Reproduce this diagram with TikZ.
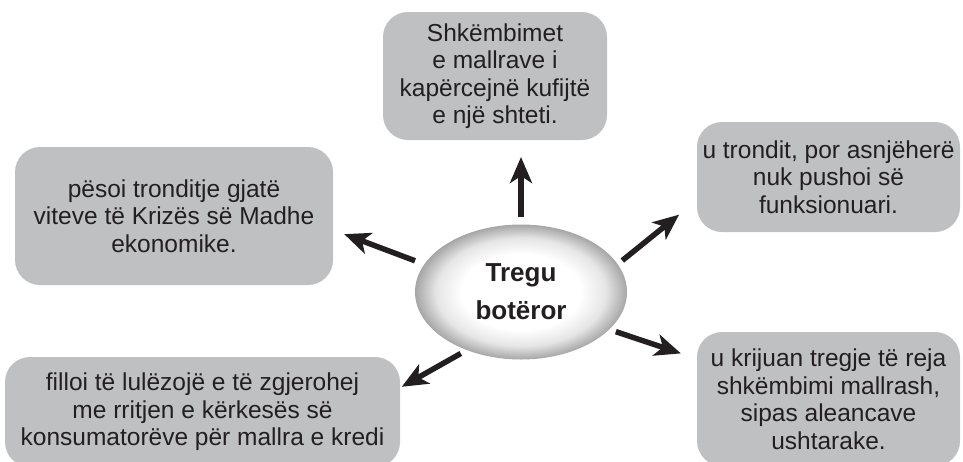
\documentclass[tikz,border=0pt]{standalone}
\usepackage{fontspec}
\setmainfont{Liberation Sans}
\usetikzlibrary{shapes.geometric, arrows.meta}
\definecolor{boxgray}{RGB}{191,192,194}
\definecolor{inkblack}{RGB}{35,31,32}
\pgfdeclareradialshading{globe}{\pgfpoint{0bp}{0bp}}{color(0bp)=(white); color(14bp)=(white); color(20bp)=(gray!20); color(25bp)=(gray!70); color(50bp)=(gray!70)}
\tikzset{
    >={Stealth[length=26pt, width=22pt, inset=7pt]}, % big solid arrow heads
    fact/.style={fill=boxgray, rounded corners=25pt, inner sep=0pt, outer sep=0pt, align=center, text=inkblack, font=\fontsize{24.5}{27.5}\selectfont}, % the grey boxes
    hub/.style={ellipse, shading=globe, inner sep=0pt, outer sep=0pt, align=center, text=inkblack, font=\fontsize{26}{38}\bfseries\selectfont}, % the centre
    link/.style={->, line width=5.5pt, draw=inkblack}, % thick arrows
}

\begin{document}
\begin{tikzpicture}[x=1pt, y=-1pt
                  ]
                  \useasboundingbox (0,0) rectangle (963,461);
                  \node[hub, minimum width=212pt, minimum height=135pt] (m) at (521,292) {Tregu\\botëror};
                  \node[fact, minimum width=224pt, minimum height=128pt] (s1) at (495,76) {Shkëmbimet\\e mallrave i\\kapërcejnë kufijtë\\e një shteti.};
                  \node[fact, minimum width=263pt, minimum height=110pt] (s2) at (828.5,177) {u trondit, por asnjëherë\\nuk pushoi së\\funksionuari.};
                  \node[fact, minimum width=263pt, minimum height=134pt] (s3) at (828.5,399) {u krijuan tregje të reja\\shkëmbimi mallrash,\\sipas aleancave\\ushtarake.};
                  \node[fact, minimum width=395pt, minimum height=110pt] (s4) at (202.5,412) {filloi të lulëzojë e të zgjerohej\\me rritjen e kërkesës së\\konsumatorëve për mallra e kredi};
                  \node[fact, minimum width=318pt, minimum height=138pt] (s5) at (174,216) {pësoi tronditje gjatë\\viteve të Krizës së Madhe\\ekonomike.};
                  \draw[link, shorten <=8pt, shorten >=17pt] (m.north) -- (m.north |- s1.south);
                  \draw[link, shorten <=6pt, shorten >=23pt] (m.16) -- (s2.190);
                  \draw[link, shorten <=7pt, shorten >=17pt] (m.-23) -- (s3.163);
                  \draw[link, shorten <=7pt, shorten >=2pt] (m.227) -- (s4.7);
                  \draw[link, shorten <=10pt, shorten >=12pt] (m.164) -- (s5.-5);
              \end{tikzpicture}
\end{document}
